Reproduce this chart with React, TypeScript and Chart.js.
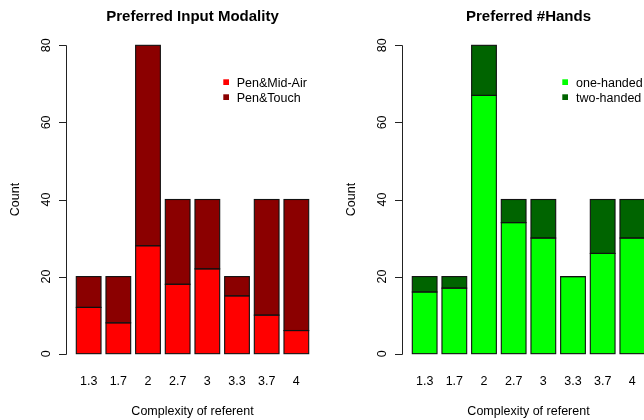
import React, { useEffect, useRef } from "react";
import { Chart, registerables } from "chart.js";

Chart.register(...registerables);

// ---- data ----
const categories = ["1.3", "1.7", "2", "2.7", "3", "3.3", "3.7", "4"];
const penMidAir = [12, 8, 28, 18, 22, 15, 10, 6];
const penTouch = [8, 12, 52, 22, 18, 5, 30, 34];
const oneHanded = [16, 17, 67, 34, 30, 20, 26, 30];
const twoHanded = [4, 3, 13, 6, 10, 0, 14, 10];
const yTicks = [0, 20, 40, 60, 80];

const titleLeft = "Preferred Input Modality";
const titleRight = "Preferred #Hands";
const xTitle = "Complexity of referent";
const yTitle = "Count";

// ---- layout (R barplot conventions: width 1, space 0.2, 4% axis extension) ----
const FONT = "'Liberation Sans', Arial, Helvetica, sans-serif";
const BAR_W = 1;
const SPACE = 0.2;
const centers = categories.map((_, i) => SPACE + i * (BAR_W + SPACE) + BAR_W / 2);
const xLo = SPACE;
const xHi = categories.length * (BAR_W + SPACE);
const xMin = xLo - 0.04 * (xHi - xLo);
const xMax = xHi + 0.04 * (xHi - xLo);
const yLo = yTicks[0];
const yHi = yTicks[yTicks.length - 1];
const yMin = yLo - 0.04 * (yHi - yLo);
const yMax = yHi + 0.04 * (yHi - yLo);

type Series = { label: string; values: number[]; color: string };
type PanelDef = {
  title: string;
  series: Series[];
  legendSquareX: number;
  legendTextX: number;
};

const leftPanel: PanelDef = {
  title: titleLeft,
  series: [
    { label: "Pen&Mid-Air", values: penMidAir, color: "#FF0000" },
    { label: "Pen&Touch", values: penTouch, color: "#8B0000" },
  ],
  legendSquareX: 223.3,
  legendTextX: 236.7,
};

const rightPanel: PanelDef = {
  title: titleRight,
  series: [
    { label: "one-handed", values: oneHanded, color: "#00FF00" },
    { label: "two-handed", values: twoHanded, color: "#006400" },
  ],
  legendSquareX: 226.3,
  legendTextX: 240,
};

function makeDecor(panel: PanelDef) {
  return {
    id: "rdecor",
    afterDatasetsDraw(chart: any) {
      // R-style bar outlines: 1px black stroke centred on each rectangle edge
      const { ctx } = chart;
      ctx.save();
      ctx.strokeStyle = "#111";
      ctx.lineWidth = 1.1;
      chart.data.datasets.forEach((_: any, di: number) => {
        const meta = chart.getDatasetMeta(di);
        meta.data.forEach((bar: any) => {
          const { x, y, base, width } = bar.getProps(["x", "y", "base", "width"], true);
          const top = Math.min(y, base);
          const h = Math.abs(base - y);
          ctx.strokeRect(x - width / 2, top, width, h);
        });
      });
      ctx.restore();
    },
    afterDraw(chart: any) {
      const { ctx, chartArea, scales } = chart;
      const xs = scales.x;
      const ys = scales.y;
      ctx.save();
      ctx.fillStyle = "#000";
      ctx.strokeStyle = "#000";
      ctx.lineWidth = 1;

      // title
      const cx = (chartArea.left + chartArea.right) / 2;
      ctx.font = `bold 15px ${FONT}`;
      ctx.textAlign = "center";
      ctx.textBaseline = "alphabetic";
      ctx.fillText(panel.title, cx, 20.5);

      // y axis line and ticks
      const ax = Math.round(chartArea.left) - 0.5;
      ctx.beginPath();
      const p0 = Math.round(ys.getPixelForValue(yLo)) + 0.5;
      const p1 = Math.round(ys.getPixelForValue(yHi)) + 0.5;
      ctx.moveTo(ax, p0);
      ctx.lineTo(ax, p1);
      yTicks.forEach((t) => {
        const py = Math.round(ys.getPixelForValue(t)) + 0.5;
        ctx.moveTo(ax - 7.5, py);
        ctx.lineTo(ax, py);
      });
      ctx.strokeStyle = "#222";
      ctx.stroke();

      // y tick labels (rotated)
      ctx.font = `12.5px ${FONT}`;
      ctx.fillStyle = "#000";
      yTicks.forEach((t) => {
        const py = ys.getPixelForValue(t);
        ctx.save();
        ctx.translate(49.5, py);
        ctx.rotate(-Math.PI / 2);
        ctx.textAlign = "center";
        ctx.fillText(String(t), 0, 0);
        ctx.restore();
      });

      // y title
      ctx.save();
      ctx.translate(18.5, (chartArea.top + chartArea.bottom) / 2);
      ctx.rotate(-Math.PI / 2);
      ctx.textAlign = "center";
      ctx.fillText(yTitle, 0, 0);
      ctx.restore();

      // x category labels
      ctx.textAlign = "center";
      categories.forEach((c, i) => {
        ctx.fillText(c, xs.getPixelForValue(centers[i]), 384.5);
      });

      // x title
      ctx.fillText(xTitle, cx, 414.5);

      // legend
      ctx.textAlign = "left";
      panel.series.forEach((s, i) => {
        const top = 79.3 + i * 15;
        ctx.fillStyle = s.color;
        ctx.fillRect(panel.legendSquareX, top, 5.7, 5.7);
        ctx.fillStyle = "#000";
        ctx.fillText(s.label, panel.legendTextX, 86.7 + i * 15);
      });

      ctx.restore();
    },
  };
}

function Panel({ panel, left }: { panel: PanelDef; left: number }) {
  const ref = useRef<HTMLCanvasElement | null>(null);
  useEffect(() => {
    if (!ref.current) return;
    const chart = new Chart(ref.current, {
      type: "bar",
      data: {
        datasets: panel.series.map((s) => ({
          label: s.label,
          data: s.values.map((v, i) => ({ x: centers[i], y: v })),
          backgroundColor: s.color,
          borderWidth: 0,
          inflateAmount: 0,
          categoryPercentage: 1,
          barPercentage: BAR_W / (BAR_W + SPACE),
        })),
      },
      options: {
        responsive: false,
        animation: false,
        devicePixelRatio: 1,
        layout: { padding: { left: 67, right: 18, top: 33, bottom: 54 } },
        plugins: {
          legend: { display: false },
          title: { display: false },
          tooltip: { enabled: false },
        },
        scales: {
          x: { type: "linear", stacked: true, display: false, offset: false, min: xMin, max: xMax },
          y: { type: "linear", stacked: true, display: false, min: yMin, max: yMax },
        },
      } as any,
      plugins: [makeDecor(panel)],
    } as any);
    return () => chart.destroy();
  }, [panel]);
  return (
    <canvas
      ref={ref}
      width={336}
      height={420}
      style={{ position: "absolute", left, top: 0, width: 336, height: 420 }}
    />
  );
}

export default function App() {
  return (
    <div
      style={{
        position: "fixed",
        left: 0,
        top: 0,
        width: 644,
        height: 420,
        overflow: "hidden",
        background: "#fff",
      }}
    >
      <Panel panel={leftPanel} left={0} />
      <Panel panel={rightPanel} left={336} />
    </div>
  );
}
